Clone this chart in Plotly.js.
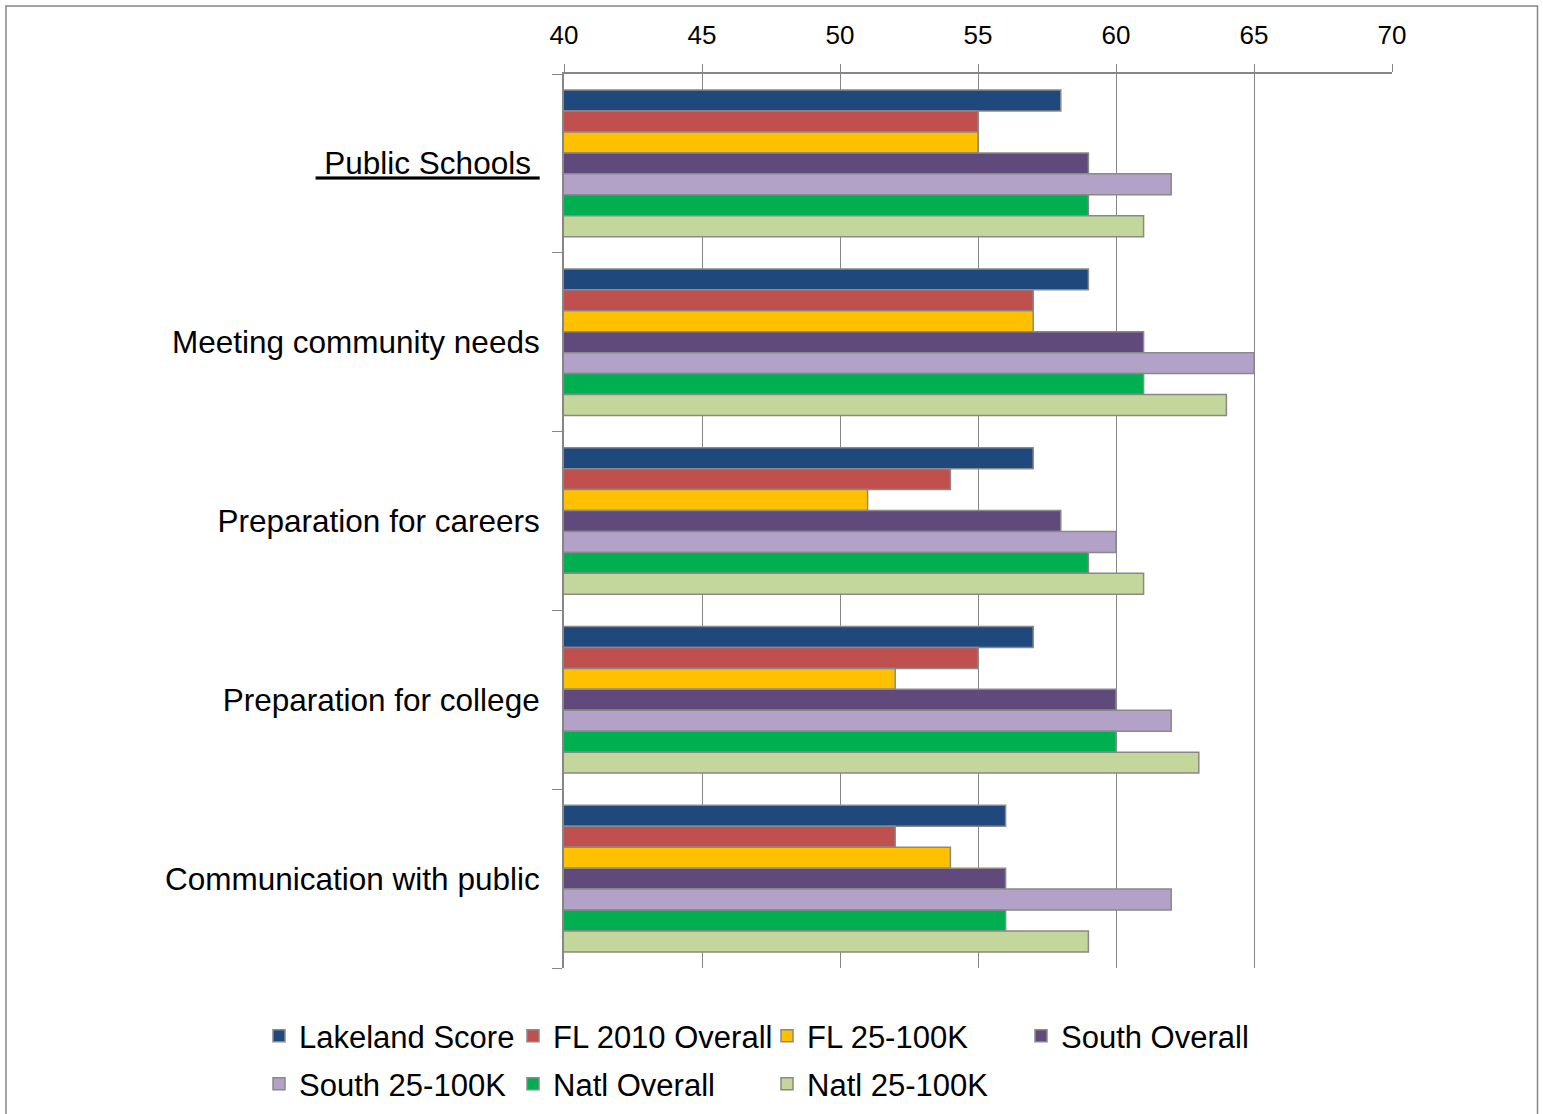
<!DOCTYPE html>
<html>
<head>
<meta charset="utf-8">
<script src="https://cdn.plot.ly/plotly-3.0.1.min.js"></script>
<style>
  html, body { margin: 0; padding: 0; background: #ffffff; }
  #chart { width: 1543px; height: 1114px; }
</style>
</head>
<body>
<div id="chart"></div>
<script>
// ---- Data ----
const categories = [
  'Public Schools',
  'Meeting community needs',
  'Preparation for careers',
  'Preparation for college',
  'Communication with public'
];
const categoryLabels = [
  '<u> Public Schools </u>',
  'Meeting community needs',
  'Preparation for careers',
  'Preparation for college',
  'Communication with public'
];
const seriesNames = [
  'Lakeland Score', 'FL 2010 Overall', 'FL 25-100K', 'South Overall',
  'South 25-100K', 'Natl Overall', 'Natl 25-100K'
];
const lakelandScore  = [58, 59, 57, 57, 56];
const fl2010Overall  = [55, 57, 54, 55, 52];
const fl25to100k     = [55, 57, 51, 52, 54];
const southOverall   = [59, 61, 58, 60, 56];
const south25to100k  = [62, 65, 60, 62, 62];
const natlOverall    = [59, 61, 59, 60, 56];
const natl25to100k   = [61, 64, 61, 63, 59];
const xTickValues    = [40, 45, 50, 55, 60, 65, 70];

// ---- Styling ----
const seriesValues = [lakelandScore, fl2010Overall, fl25to100k, southOverall, south25to100k, natlOverall, natl25to100k];
const colors = ['#1F497D', '#C0504D', '#FFC000', '#604A7B', '#B3A2C7', '#00B050', '#C3D69B'];
const legendOf = ['legend', 'legend', 'legend', 'legend', 'legend2', 'legend2', 'legend2'];
const FONT = 'Liberation Sans, Arial, sans-serif';

const traces = seriesNames.map((name, i) => ({
  type: 'bar',
  orientation: 'h',
  name: name,
  y: categories,
  x: seriesValues[i],
  base: 0,
  legend: legendOf[i],
  marker: { color: colors[i], line: { color: '#898989', width: 1.5 } },
  hoverinfo: 'x+name'
}));

// plot area: x 564..1392, y 74..968
const L = 564, R = 1392, T = 74, B = 968;
const pw = R - L, ph = B - T;
const px = v => (v - L) / pw;
const py = v => (B - v) / ph;

const legendCommon = {
  orientation: 'h',
  xanchor: 'left',
  yanchor: 'top',
  entrywidth: 209, entrywidthmode: 'pixels',
  font: { family: FONT, size: 31, color: '#000000' },
  bgcolor: 'rgba(0,0,0,0)',
  borderwidth: 0,
  traceorder: 'normal',
  itemclick: false, itemdoubleclick: false
};

const layout = {
  width: 1543,
  height: 1114,
  margin: { l: L, r: 1543 - R, t: T, b: 1114 - B, pad: 0, autoexpand: false },
  paper_bgcolor: '#ffffff',
  plot_bgcolor: '#ffffff',
  font: { family: FONT, color: '#000000', size: 26 },
  barmode: 'group',
  bargap: 0.18,
  bargroupgap: 0,
  showlegend: true,
  xaxis: {
    side: 'top',
    range: [40, 70],
    tickvals: xTickValues,
    ticktext: xTickValues.map(String),
    showgrid: true,
    gridcolor: '#868686',
    gridwidth: 1,
    zeroline: false,
    showline: true,
    linecolor: '#868686',
    linewidth: 1.5,
    ticks: 'outside',
    ticklen: 8,
    tickcolor: '#868686',
    ticklabelstandoff: 10,
    tickfont: { family: FONT, size: 26, color: '#000000' },
    fixedrange: true
  },
  yaxis: {
    type: 'category',
    categoryorder: 'array',
    categoryarray: categories,
    autorange: 'reversed',
    tickmode: 'array',
    tickvals: categories,
    ticktext: categoryLabels,
    tickson: 'boundaries',
    ticks: 'outside',
    ticklen: 10,
    tickcolor: '#868686',
    showline: true,
    linecolor: '#868686',
    linewidth: 2,
    showgrid: false,
    zeroline: false,
    ticklabelstandoff: 16,
    tickfont: { family: FONT, size: 31.5, color: '#000000' },
    fixedrange: true
  },
  legend: Object.assign({}, legendCommon, { x: px(259), y: py(1009) }),
  legend2: Object.assign({}, legendCommon, { x: px(259), y: py(1057) }),
  shapes: [
    {
      type: 'rect', xref: 'paper', yref: 'paper',
      x0: px(6), x1: px(1537.5), y0: py(1130), y1: py(6),
      line: { color: '#868686', width: 1.5 },
      fillcolor: 'rgba(0,0,0,0)',
      layer: 'below'
    }
  ]
};

Plotly.newPlot('chart', traces, layout, { displayModeBar: false, staticPlot: false, responsive: false });
</script>
</body>
</html>
